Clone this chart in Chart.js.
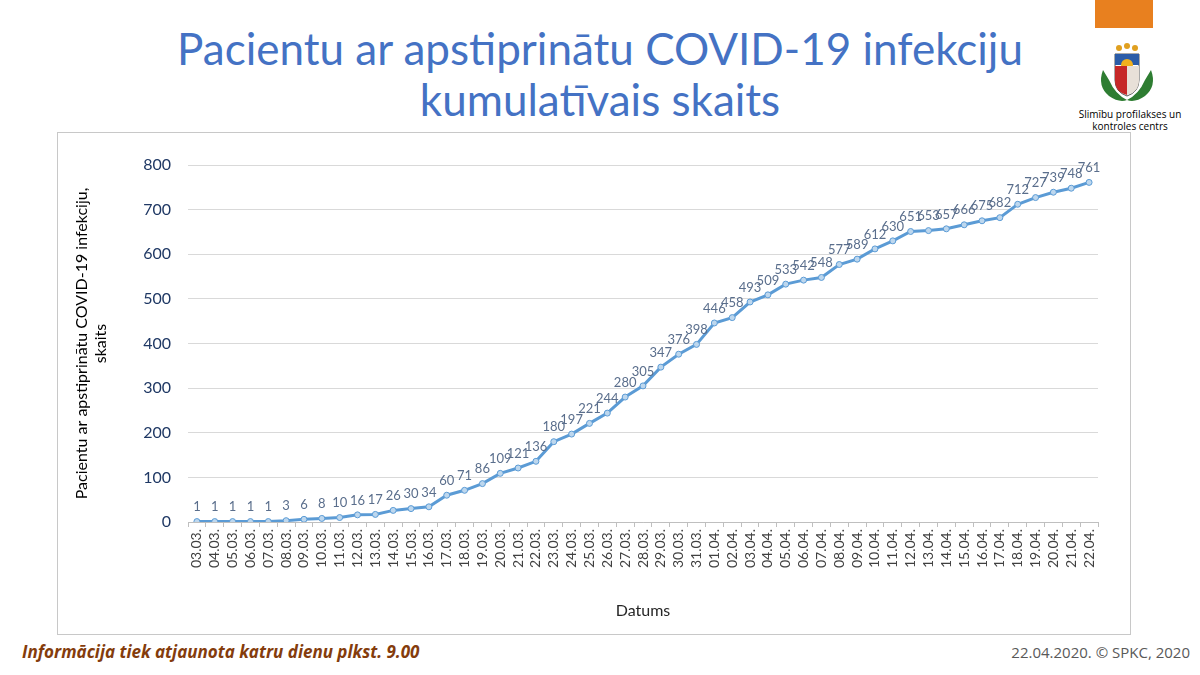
<!DOCTYPE html>
<html>
<head>
<meta charset="utf-8">
<script src="https://cdn.jsdelivr.net/npm/chart.js@4"></script>
<style>
  body { margin: 0; width: 1200px; height: 675px; background: #fff; position: relative; overflow: hidden; font-family: Lato, "Open Sans", sans-serif; }
  #title { position: absolute; left: 0; width: 1200px; top: 23px; text-align: center; color: #4472C4; font-size: 44px; line-height: 51px; }
  #box { position: absolute; left: 57px; top: 132px; width: 1072px; height: 501px; border: 1px solid #c8c8c8; }
  #orange { position: absolute; left: 1095px; top: 0; width: 58px; height: 28px; background: #E8801F; }
  #logo { position: absolute; left: 1097px; top: 42px; width: 60px; height: 62px; }
  #org { position: absolute; left: 1060px; top: 108px; width: 140px; text-align: center; font-size: 10px; line-height: 12px; color: #000; font-family: "Open Sans", sans-serif; }
  #note { position: absolute; left: 22px; top: 640px; color: #843C0C; font-weight: bold; font-style: italic; font-size: 17px; font-family: "Open Sans", sans-serif; }
  #copy { position: absolute; right: 10px; top: 642px; color: #595959; font-size: 15px; font-family: "Open Sans", sans-serif; }
</style>
</head>
<body>
<div id="title">Pacientu ar apstiprinātu COVID-19 infekciju<br>kumulatīvais skaits</div>
<div id="orange"></div>
<svg id="logo" viewBox="0 0 60 62">
  <circle cx="22" cy="6" r="3" fill="#E0A020"/><circle cx="30" cy="4" r="3" fill="#E0A020"/><circle cx="38" cy="6" r="3" fill="#E0A020"/>
  <path d="M6 28 Q0 44 12 54 Q22 61 30 58 Q18 52 12 38 Z" fill="#2E7D32"/>
  <path d="M54 28 Q60 44 48 54 Q38 61 30 58 Q42 52 48 38 Z" fill="#2E7D32"/>
  <path d="M18 12 H42 V38 Q42 50 30 54 Q18 50 18 38 Z" fill="#fff" stroke="#555" stroke-width="1"/>
  <rect x="18" y="12" width="24" height="11" fill="#2B5CA8"/>
  <circle cx="30" cy="23" r="6" fill="#F2B01E"/>
  <path d="M18 24 H30 V53 Q18 50 18 38 Z" fill="#C62828"/>
  <path d="M30 24 H42 V38 Q42 50 30 53 Z" fill="#E8E0D8"/>
</svg>
<div id="org">Slimību profilakses un<br>kontroles centrs</div>
<div id="box"><canvas id="chart"></canvas></div>
<div id="note">Informācija tiek atjaunota katru dienu plkst. 9.00</div>
<div id="copy">22.04.2020. © SPKC, 2020</div>
<script>
const dates = ["03.03.","04.03.","05.03.","06.03.","07.03.","08.03.","09.03.","10.03.","11.03.","12.03.","13.03.","14.03.","15.03.","16.03.","17.03.","18.03.","19.03.","20.03.","21.03.","22.03.","23.03.","24.03.","25.03.","26.03.","27.03.","28.03.","29.03.","30.03.","31.03.",
  "01.04.","02.04.","03.04.","04.04.","05.04.","06.04.","07.04.","08.04.","09.04.","10.04.","11.04.","12.04.","13.04.","14.04.","15.04.","16.04.","17.04.","18.04.","19.04.","20.04.","21.04.","22.04."];
const patients = [1,1,1,1,1,3,6,8,10,16,17,26,30,34,60,71,86,109,121,136,180,197,221,244,280,305,347,376,398,
  446,458,493,509,533,542,548,577,589,612,630,651,653,657,666,675,682,712,727,739,748,761];
const yTicks = [0,100,200,300,400,500,600,700,800];

// value labels above each point
const pointLabels = {
  id: 'pointLabels',
  afterDatasetsDraw(chart) {
    const ctx = chart.ctx;
    const meta = chart.getDatasetMeta(0);
    ctx.save();
    ctx.font = '13px Lato, "Open Sans", sans-serif';
    ctx.fillStyle = '#5A6E8C';
    ctx.textAlign = 'center';
    ctx.textBaseline = 'bottom';
    meta.data.forEach((pt, i) => {
      ctx.fillText(String(patients[i]), pt.x, pt.y - 8);
    });
    ctx.restore();
  }
};

new Chart(document.getElementById('chart'), {
  type: 'line',
  data: {
    labels: dates,
    datasets: [{
      data: patients,
      borderColor: '#5B9BD5',
      borderWidth: 3,
      pointRadius: 3,
      pointBorderWidth: 1,
      pointBackgroundColor: '#BDD7EE',
      pointBorderColor: '#5B9BD5',
      tension: 0
    }]
  },
  options: {
    responsive: true,
    maintainAspectRatio: false,
    animation: false,
    layout: { padding: { left: 14, right: 32, top: 32, bottom: 14 } },
    plugins: { legend: { display: false }, tooltip: { enabled: false } },
    scales: {
      x: {
        offset: true,
        afterFit(scale) { scale.height = 98; },
        grid: { offset: true, drawOnChartArea: false, tickLength: 5, color: '#bfbfbf' },
        border: { color: '#bfbfbf' },
        ticks: { autoSkip: false, maxRotation: 90, minRotation: 90, padding: 2, color: '#404040', font: { size: 14, family: 'Lato, "Open Sans", sans-serif' } },
        title: { display: true, text: 'Datums', color: '#262626', font: { size: 16, family: 'Lato, "Open Sans", sans-serif' }, padding: { top: 0, bottom: 0 } }
      },
      y: {
        min: 0,
        max: 800,
        afterFit(scale) { scale.width = 116; },
        afterBuildTicks(scale) { scale.ticks = yTicks.map(v => ({ value: v })); },
        grid: { color: '#d9d9d9', drawTicks: false },
        border: { display: false },
        ticks: { padding: 17, color: '#1F3864', font: { size: 16, family: 'Lato, "Open Sans", sans-serif' } },
        title: { display: true, text: ['Pacientu ar apstiprinātu COVID-19 infekciju,', 'skaits'], color: '#000', font: { size: 16, family: 'Lato, "Open Sans", sans-serif' }, padding: { top: 0, bottom: 0 } }
      }
    }
  },
  plugins: [pointLabels]
});
</script>
</body>
</html>
